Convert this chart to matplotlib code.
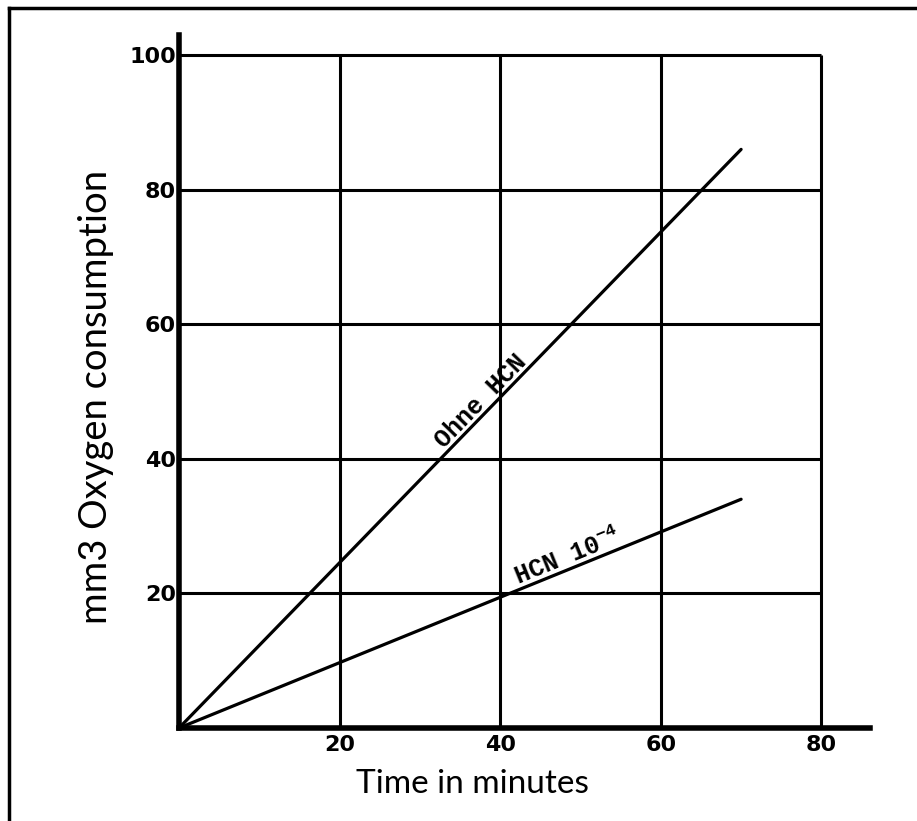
import numpy as np
import matplotlib
matplotlib.use("Agg")
import matplotlib.pyplot as plt
from matplotlib.lines import Line2D

# ---- data ----
time_min = [0, 70]
ohne_hcn = [0, 86]
hcn_1e4 = [0, 34]
x_ticks = [20, 40, 60, 80]
y_ticks = [20, 40, 60, 80, 100]
x_tick_labels = ["20", "40", "60", "80"]
y_tick_labels = ["20", "40", "60", "80", "100"]
label_ohne = "Ohne HCN"
label_hcn = "HCN 10$^{\\mathregular{-4}}$"

W, H = 917, 821
fig = plt.figure(figsize=(W / 100, H / 100), dpi=100)

# axes placed in pixel units
left_px, right_px = 179, 870
bottom_px_from_top, top_px = 728, 35
ax = fig.add_axes([left_px / W, (H - bottom_px_from_top) / H,
                   (right_px - left_px) / W, (bottom_px_from_top - top_px) / H])
ax.set_xlim(0, 86.05)
ax.set_ylim(0, 103.0)

for s in ["top", "right"]:
    ax.spines[s].set_visible(False)
for s in ["left", "bottom"]:
    ax.spines[s].set_linewidth(4.0)
    ax.spines[s].set_color("black")
    ax.spines[s].set_capstyle("projecting")

# grid box 0..80 x 0..100
ax.vlines(x_ticks, 0, max(y_ticks), color="black", lw=2.2, zorder=1)
ax.hlines(y_ticks, 0, max(x_ticks), color="black", lw=2.2, zorder=1)

# data lines
ax.plot(time_min, ohne_hcn, color="black", lw=2.3, solid_capstyle="round", zorder=3)
ax.plot(time_min, hcn_1e4, color="black", lw=2.3, solid_capstyle="round", zorder=3)

tickfont = dict(family="DejaVu Sans", weight="bold", size=16)
ax.set_xticks(x_ticks)
ax.set_xticklabels(x_tick_labels, fontdict=tickfont)
ax.set_yticks(y_ticks)
ax.set_yticklabels(y_tick_labels, fontdict=tickfont)
ax.tick_params(axis="both", length=0)
ax.tick_params(axis="x", pad=5)
ax.tick_params(axis="y", pad=2)

# line annotations, sitting just above their line
mono = dict(family="Liberation Mono", weight="bold", size=18)


def label_on_line(xs, ys, xpos, text, gap_pt=3.0):
    p = ax.transData.transform(np.column_stack([xs, ys]))
    ang = np.arctan2(p[1, 1] - p[0, 1], p[1, 0] - p[0, 0])
    ypos = ys[0] + (ys[1] - ys[0]) / (xs[1] - xs[0]) * (xpos - xs[0])
    ax.annotate(text, (xpos, ypos), xytext=(-np.sin(ang) * gap_pt, np.cos(ang) * gap_pt),
                textcoords="offset points", rotation=np.degrees(ang),
                rotation_mode="anchor", ha="center", va="baseline",
                fontfamily=mono["family"], fontweight=mono["weight"],
                fontsize=mono["size"], zorder=4)


label_on_line(time_min, ohne_hcn, 38.6, label_ohne)
label_on_line(time_min, hcn_1e4, 49.0, label_hcn)

# axis titles
fig.text(472 / W, (H - 793) / H, "Time in minutes", family="Lato",
         size=24, ha="center", va="baseline")
fig.text(107 / W, (H - 397) / H, "mm3 Oxygen consumption", family="Lato",
         size=27.5, rotation=90, rotation_mode="anchor", ha="center", va="baseline")

# outer frame (top & left visible, continues off canvas)
fig.add_artist(Line2D([9 / W, 1.01], [1 - 8 / H, 1 - 8 / H], color="black", lw=2.5,
                      transform=fig.transFigure))
fig.add_artist(Line2D([9 / W, 9 / W], [1 - 8 / H, -0.01], color="black", lw=2.5,
                      transform=fig.transFigure))

fig.savefig("out.png", dpi=100, facecolor="white")
